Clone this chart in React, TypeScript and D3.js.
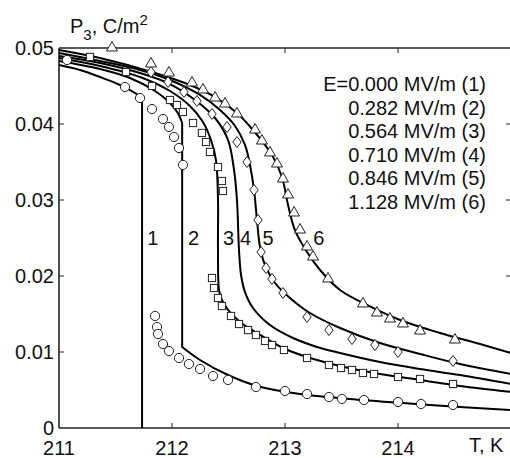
import React from 'react';
import * as d3 from 'd3';

// fitted curves, [T (K), P3 (C/m^2)]
// curves 1 and 2 have a sharp jump: upper branch, vertical drop, lower branch
const curve1Upper = [[211, 0.04776], [211.186, 0.04711], [211.363, 0.04618], [211.54, 0.04513], [211.673, 0.04408], [211.735, 0.04342]];
const curve1Lower = [[211.735, 0]];
const curve2Upper = [[211, 0.04829], [211.363, 0.04724], [211.628, 0.04605], [211.85, 0.04434], [211.982, 0.04276], [212.053, 0.04142], [212.09, 0.04013]];
const curve2Lower = [[212.09, 0.01066], [212.248, 0.00895], [212.496, 0.00697], [212.752, 0.00553], [213.133, 0.00447], [213.69, 0.00368], [214.283, 0.00303], [215, 0.00237]];
const curve3 = [[211, 0.04868], [211.363, 0.04763], [211.717, 0.04618], [211.982, 0.04434], [212.159, 0.04237], [212.274, 0.04026], [212.345, 0.03789], [212.389, 0.03526], [212.407, 0.03], [212.407, 0.02342], [212.416, 0.01816], [212.442, 0.01684], [212.496, 0.01553], [212.602, 0.01395], [212.752, 0.0125], [212.982, 0.01053], [213.195, 0.00934], [213.487, 0.00816], [213.841, 0.00711], [214.195, 0.00632], [214.549, 0.00553], [215, 0.00474]];
const curve4 = [[211, 0.04895], [211.363, 0.04803], [211.717, 0.04671], [211.982, 0.04526], [212.204, 0.04316], [212.381, 0.04079], [212.496, 0.03789], [212.549, 0.03395], [212.575, 0.03], [212.593, 0.02342], [212.611, 0.02013], [212.646, 0.01789], [212.717, 0.01579], [212.867, 0.01355], [213.071, 0.01184], [213.283, 0.01066], [213.487, 0.00987], [213.841, 0.00868], [214.195, 0.00776], [214.549, 0.00697], [215, 0.00579]];
const curve5 = [[211, 0.04934], [211.363, 0.04829], [211.717, 0.04711], [211.982, 0.04579], [212.248, 0.04382], [212.425, 0.04184], [212.558, 0.03974], [212.646, 0.03724], [212.69, 0.03461], [212.726, 0.03132], [212.752, 0.02737], [212.779, 0.02382], [212.823, 0.02145], [212.912, 0.01908], [213.044, 0.01711], [213.221, 0.01513], [213.487, 0.01316], [213.841, 0.01118], [214.195, 0.00974], [214.549, 0.00842], [215, 0.00711]];
const curve6 = [[211, 0.04974], [211.363, 0.04868], [211.85, 0.04671], [212.159, 0.04513], [212.381, 0.04355], [212.575, 0.04145], [212.717, 0.03921], [212.885, 0.03592], [212.973, 0.03303], [213.027, 0.02934], [213.088, 0.02605], [213.195, 0.02316], [213.31, 0.02079], [213.487, 0.01816], [213.69, 0.01645], [214.018, 0.01421], [214.372, 0.0125], [214.726, 0.01105], [215, 0.00987]];

// measured points
const circles = [[211.071, 0.04842], [211.584, 0.04487], [211.717, 0.04342], [211.823, 0.04197], [211.92, 0.04066], [211.973, 0.03961], [212.018, 0.03829], [212.062, 0.03684], [212.097, 0.03461], [211.85, 0.01474], [211.867, 0.01329], [211.876, 0.01237], [211.92, 0.01105], [211.973, 0.01013], [212.062, 0.00921], [212.15, 0.00842], [212.248, 0.00776], [212.363, 0.00684], [212.496, 0.00632], [212.743, 0.00539], [213.0, 0.00487], [213.195, 0.00447], [213.389, 0.00408], [213.504, 0.00382], [213.699, 0.00368], [214.0, 0.00342], [214.204, 0.00316], [214.487, 0.00303]];
const squares = [[211.274, 0.04882], [211.593, 0.04684], [211.823, 0.045], [211.982, 0.04316], [212.044, 0.0425], [212.097, 0.04158], [212.186, 0.04013], [212.265, 0.03882], [212.301, 0.03763], [212.336, 0.03632], [212.407, 0.03434], [212.442, 0.0325], [212.451, 0.03118], [212.354, 0.01974], [212.372, 0.01842], [212.407, 0.01711], [212.442, 0.01605], [212.522, 0.01474], [212.593, 0.01368], [212.673, 0.01289], [212.743, 0.01224], [212.823, 0.01145], [212.885, 0.01092], [212.991, 0.01026], [213.195, 0.00921], [213.389, 0.00829], [213.496, 0.00789], [213.593, 0.00763], [213.69, 0.00724], [213.788, 0.00711], [214.0, 0.00671], [214.195, 0.00645], [214.487, 0.00579]];
const diamonds = [[211.814, 0.04684], [211.965, 0.04553], [212.106, 0.04421], [212.221, 0.04303], [212.354, 0.04132], [212.487, 0.03961], [212.575, 0.03763], [212.664, 0.035], [212.726, 0.03132], [212.761, 0.02737], [212.788, 0.02316], [212.832, 0.02105], [212.885, 0.01961], [212.982, 0.01776], [213.195, 0.01461], [213.389, 0.01289], [213.593, 0.01171], [213.796, 0.01092], [214.0, 0.01], [214.487, 0.00882]];
const triangles = [[211.469, 0.05013], [211.814, 0.04803], [211.973, 0.04684], [212.177, 0.04553], [212.274, 0.04461], [212.381, 0.04355], [212.469, 0.04276], [212.575, 0.04145], [212.735, 0.03934], [212.796, 0.03789], [212.867, 0.03632], [212.929, 0.03487], [212.982, 0.03289], [213.027, 0.03079], [213.08, 0.02842], [213.133, 0.02618], [213.195, 0.02395], [213.248, 0.02263], [213.381, 0.01974], [213.69, 0.01645], [213.814, 0.01526], [213.929, 0.01447], [214.044, 0.01382], [214.195, 0.01289], [214.504, 0.01171]];

const xTicks = [211, 212, 213, 214];
const yTicks = [0, 0.01, 0.02, 0.03, 0.04, 0.05];
const legendLabels = ['E=0.000 MV/m (1)', '0.282 MV/m (2)', '0.564 MV/m (3)', '0.710 MV/m (4)', '0.846 MV/m (5)', '1.128 MV/m (6)'];
const curveLabels = [['1', 211.83], ['2', 212.19], ['3', 212.5], ['4', 212.65], ['5', 212.85], ['6', 213.3]];

const W = 510, H = 458;
const font = 'Arial, "Liberation Sans", sans-serif';
const fs = 20;

export default function App() {
  const x = d3.scaleLinear().domain([211, 215]).range([59, 511]);
  const y = d3.scaleLinear().domain([0, 0.05]).range([428, 48]);

  const smooth = d3.line<number[]>()
    .x(d => x(d[0]))
    .y(d => y(d[1]))
    .curve(d3.curveCatmullRom.alpha(0.5));

  // branch with a jump: smooth upper part, straight drop, smooth lower part
  const jump = (upper: number[][], lower: number[][]) => {
    const a = upper[upper.length - 1], b = lower[0];
    const drop = `L${x(b[0])},${y(b[1])}`;
    const low = lower.length > 1 ? (smooth(lower) || '').replace(/^M[^LC]*/, '') : '';
    return (smooth(upper) || '') + drop + low;
  };

  const paths = [
    jump(curve1Upper, curve1Lower),
    jump(curve2Upper, curve2Lower),
    smooth(curve3) || '',
    smooth(curve4) || '',
    smooth(curve5) || '',
    smooth(curve6) || '',
  ];

  const diamondPath = 'M0,-5.5L4.2,0L0,5.5L-4.2,0Z';
  const trianglePath = 'M0,-5.5L5.5,4L-5.5,4Z';

  return (
    <svg width={W} height={H} style={{ position: 'fixed', left: 0, top: 0, background: '#fff' }} fontFamily={font}>
      {/* frame */}
      <g stroke="#222" strokeWidth={1.6} fill="none">
        <line x1={x(211)} x2={x(215)} y1={y(0)} y2={y(0)} />
        <line x1={x(211)} x2={x(215)} y1={y(0.05)} y2={y(0.05)} />
        <line x1={x(211)} x2={x(211)} y1={y(0)} y2={y(0.05)} />
        <line x1={x(215)} x2={x(215)} y1={y(0)} y2={y(0.05)} />
      </g>
      <g stroke="#222" strokeWidth={1}>
        {xTicks.slice(1).map(t => (
          <g key={t}>
            <line x1={x(t)} x2={x(t)} y1={y(0)} y2={y(0) - 5} />
            <line x1={x(t)} x2={x(t)} y1={y(0.05)} y2={y(0.05) + 5} />
          </g>
        ))}
        {yTicks.slice(1, -1).map(t => (
          <g key={t}>
            <line x1={x(211)} x2={x(211) + 5} y1={y(t)} y2={y(t)} />
            <line x1={x(215)} x2={x(215) - 5} y1={y(t)} y2={y(t)} />
          </g>
        ))}
      </g>
      <g fontSize={fs} fill="#111">
        {xTicks.map(t => (
          <text key={t} x={x(t)} y={455} textAnchor="middle">{t}</text>
        ))}
        {yTicks.map(t => (
          <text key={t} x={54} y={y(t)} dy="0.36em" textAnchor="end">{t === 0 ? '0' : t.toFixed(2)}</text>
        ))}
        <text x={469} y={452}>T, K</text>
        <text x={70} y={33}>P<tspan fontSize={15} dy={7}>3</tspan><tspan dy={-7}>, C/m</tspan><tspan fontSize={15} dy={-8}>2</tspan></text>
      </g>

      {/* curves */}
      <g fill="none" stroke="#000" strokeWidth={2}>
        {paths.map((p, i) => <path key={i} d={p} />)}
      </g>

      {/* markers */}
      <g fill="#fff" stroke="#222" strokeWidth={1}>
        {circles.map((d, i) => <circle key={i} cx={x(d[0])} cy={y(d[1])} r={4.6} />)}
        {squares.map((d, i) => <rect key={i} x={x(d[0]) - 3.6} y={y(d[1]) - 3.6} width={7.2} height={7.2} />)}
        {diamonds.map((d, i) => <path key={i} d={diamondPath} transform={`translate(${x(d[0])},${y(d[1])})`} />)}
        {triangles.map((d, i) => <path key={i} d={trianglePath} transform={`translate(${x(d[0])},${y(d[1])})`} />)}
      </g>

      {/* curve numbers */}
      <g fontSize={fs} fill="#111" textAnchor="middle">
        {curveLabels.map(([s, t]) => (
          <text key={s as string} x={x(t as number)} y={245}>{s}</text>
        ))}
      </g>

      {/* legend */}
      <g fontSize={fs} fill="#111" textAnchor="end">
        {legendLabels.map((s, i) => (
          <text key={i} x={486} y={91 + i * 23.5}>{s}</text>
        ))}
      </g>
    </svg>
  );
}
